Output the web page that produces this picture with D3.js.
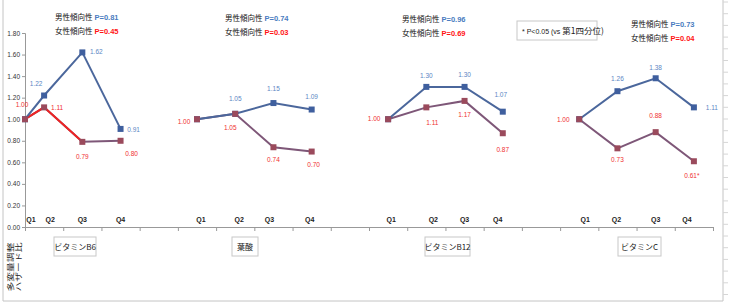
<!DOCTYPE html>
<html>
<head>
<meta charset="utf-8">
<script src="https://cdn.jsdelivr.net/npm/d3@7"></script>
<style>
  body { margin: 0; background: #fff; }
  svg { display: block; font-family: "Liberation Sans", "Noto Sans CJK JP", sans-serif; }
</style>
</head>
<body>
<svg></svg>
<script>
// data
const panels = ["ビタミンB6", "葉酸", "ビタミンB12", "ビタミンC"]
const quartiles = ["Q1", "Q2", "Q3", "Q4"]
const menHR = [
  [1.00, 1.22, 1.62, 0.91],
  [1.00, 1.05, 1.15, 1.09],
  [1.00, 1.30, 1.30, 1.07],
  [1.00, 1.26, 1.38, 1.11]
]
const womenHR = [
  [1.00, 1.11, 0.79, 0.80],
  [1.00, 1.05, 0.74, 0.70],
  [1.00, 1.11, 1.17, 0.87],
  [1.00, 0.73, 0.88, 0.61]
]
const womenSig = [
  [false, false, false, false],
  [false, false, false, false],
  [false, false, false, false],
  [false, false, false, true]
]
const menP = ["0.81", "0.74", "0.96", "0.73"]
const womenP = ["0.45", "0.03", "0.69", "0.04"]
// category slot of each quartile on the 18-slot axis
const slots = [
  [0, 0.5, 1.5, 2.5],
  [4.5, 5.5, 6.5, 7.5],
  [9.5, 10.5, 11.5, 12.5],
  [14.5, 15.5, 16.5, 17.5]
]
const yTicks = [0, 0.2, 0.4, 0.6, 0.8, 1.0, 1.2, 1.4, 1.6, 1.8]

// layout (label nudges, boxes)
const menLabelOff = [
  [null, [-8, -11], [14, 0], [13, 1]],
  [null, [0, -15], [0, -14], [0, -12]],
  [null, [0, -11], [0, -12], [-2, -16]],
  [null, [0, -12], [0, -10], [18, 1]]
]
const womenLabelOff = [
  [[-3, -14], [13, 1], [0, 15], [11, 14]],
  [[-13, 3], [-5, 14], [0, 13], [2, 14]],
  [[-14, 0], [6, 16], [0, 14], [0, 17]],
  [[-16, 1], [0, 12], [0, -16], [-2, 15]]
]
const qDx = [[6, 6, 0, 0], [4, 4, -4, -2], [3, 7, 0, -5], [6, -1, 0, -7]]
const titlePos = [[55, 20], [225, 21], [402, 22], [631, 27]]
const boxPos = [[54, 42], [232, 26], [425, 45], [618, 43]]

const svg = d3.select("svg")
  .attr("width", 733)
  .attr("height", 303)

const x = d3.scaleLinear().domain([0, 18]).range([25, 713])
const y = d3.scaleLinear().domain([0, 1.8]).range([227, 33])

// outer frame
svg.append("path")
  .attr("d", "M3,-1 V301 H723 V-1")
  .attr("fill", "none")
  .attr("stroke", "#c4c4c4")
svg.append("g")
  .selectAll("line")
  .data(d3.range(0, 26))
  .join("line")
  .attr("x1", 723).attr("x2", 728)
  .attr("y1", d => 2 + d * 11.7).attr("y2", d => 2 + d * 11.7)
  .attr("stroke", "#d6d6d6")

// axes
const yAxis = d3.axisLeft(y)
  .tickValues(yTicks)
  .tickFormat(d3.format(".2f"))
  .tickSize(3)
  .tickPadding(2)
const yG = svg.append("g")
  .attr("transform", "translate(25,0)")
  .call(yAxis)
yG.select(".domain").attr("stroke", "#999")
yG.selectAll(".tick line").attr("stroke", "#999")
yG.selectAll("text").attr("font-size", 6.5).attr("fill", "#333")

const xAxis = d3.axisBottom(x)
  .tickValues(d3.range(0, 19))
  .tickFormat("")
  .tickSize(4)
  .tickSizeOuter(0)
const xG = svg.append("g")
  .attr("transform", "translate(0,227)")
  .call(xAxis)
xG.select(".domain").attr("stroke", "#999")
xG.selectAll(".tick line").attr("stroke", "#999")

const line = d3.line()
  .x(d => x(d.s))
  .y(d => y(d.v))

panels.forEach((name, p) => {
  const men = menHR[p].map((v, i) => ({ s: slots[p][i], v: v }))
  const women = womenHR[p].map((v, i) => ({ s: slots[p][i], v: v }))
  const g = svg.append("g").attr("class", "panel")

  g.append("path")
    .attr("d", line(women))
    .attr("fill", "none")
    .attr("stroke", "#7e5778")
    .attr("stroke-width", 2)
  if (p === 0) {
    g.append("path")
      .attr("d", line(women.slice(0, 3)))
      .attr("fill", "none")
      .attr("stroke", "#ee2424")
      .attr("stroke-width", 2)
  }
  g.append("path")
    .attr("d", line(men))
    .attr("fill", "none")
    .attr("stroke", "#4b679c")
    .attr("stroke-width", 2)

  g.selectAll("rect.m")
    .data(men)
    .join("rect")
    .attr("class", "m")
    .attr("x", d => x(d.s) - 3).attr("y", d => y(d.v) - 3)
    .attr("width", 6).attr("height", 6)
    .attr("fill", "#3f5f9e")
  g.selectAll("rect.w")
    .data(women)
    .join("rect")
    .attr("class", "w")
    .attr("x", d => x(d.s) - 3).attr("y", d => y(d.v) - 3)
    .attr("width", 6).attr("height", 6)
    .attr("fill", "#9a4a5c")

  // value labels
  men.forEach((d, i) => {
    const off = menLabelOff[p][i]
    if (!off) return
    g.append("text")
      .attr("x", x(d.s) + off[0]).attr("y", y(d.v) + off[1])
      .attr("text-anchor", "middle")
      .attr("dominant-baseline", "middle")
      .attr("font-size", 6.5)
      .attr("fill", "#5b86c4")
      .text(d.v.toFixed(2))
  })
  women.forEach((d, i) => {
    const off = womenLabelOff[p][i]
    g.append("text")
      .attr("x", x(d.s) + off[0]).attr("y", y(d.v) + off[1])
      .attr("text-anchor", "middle")
      .attr("dominant-baseline", "middle")
      .attr("font-size", 6.5)
      .attr("fill", "#f03030")
      .text(d.v.toFixed(2) + (womenSig[p][i] ? "*" : ""))
  })

  // quartile labels
  quartiles.forEach((q, i) => {
    g.append("text")
      .attr("x", x(slots[p][i]) + qDx[p][i]).attr("y", 222)
      .attr("text-anchor", "middle")
      .attr("font-size", 7)
      .attr("font-weight", "bold")
      .attr("fill", "#222")
      .text(q)
  })

  // trend p-values
  const t = titlePos[p]
  const rows = [["男性傾向性", menP[p], "#4a7cc0"], ["女性傾向性", womenP[p], "#ff1414"]]
  rows.forEach((r, k) => {
    g.append("text")
      .attr("x", t[0]).attr("y", t[1] + k * 14)
      .attr("font-family", "Noto Sans CJK JP")
      .attr("font-size", 7.5)
      .attr("fill", "#111")
      .text(r[0])
    g.append("text")
      .attr("x", t[0] + 39.5).attr("y", t[1] + k * 14)
      .attr("font-size", 7.5)
      .attr("font-weight", "bold")
      .attr("fill", r[2])
      .text("P=" + r[1])
  })

  // category box
  const b = boxPos[p]
  g.append("rect")
    .attr("x", b[0]).attr("y", 237)
    .attr("width", b[1]).attr("height", 19)
    .attr("fill", "#fff")
    .attr("stroke", "#c8c8c8")
  g.append("text")
    .attr("x", b[0] + b[1] / 2).attr("y", 250)
    .attr("text-anchor", "middle")
    .attr("font-family", "Noto Sans CJK JP")
    .attr("font-size", 8)
    .attr("fill", "#222")
    .text(name)
})

// note box
svg.append("rect")
  .attr("x", 517).attr("y", 21)
  .attr("width", 80).attr("height", 19)
  .attr("fill", "#fff")
  .attr("stroke", "#c8c8c8")
const note = svg.append("text")
  .attr("x", 522).attr("y", 34)
  .attr("font-size", 7)
  .attr("fill", "#222")
note.append("tspan").text("* P<0.05 (vs ")
note.append("tspan").attr("font-family", "Noto Sans CJK JP").attr("font-size", 8.5).text("第1四分位)")

// y title (two rotated lines, stretched along the text like the original)
const yt = svg.append("text")
  .attr("transform", "translate(13,267) rotate(-90) scale(1.4,1)")
  .attr("text-anchor", "middle")
  .attr("font-family", "Noto Sans CJK JP")
  .attr("font-size", 7)
  .attr("fill", "#222")
yt.append("tspan").attr("x", 0).attr("dy", 0).text("多変量調整")
yt.append("tspan").attr("x", 0).attr("dy", 8).text("ハザード比")
</script>
</body>
</html>
